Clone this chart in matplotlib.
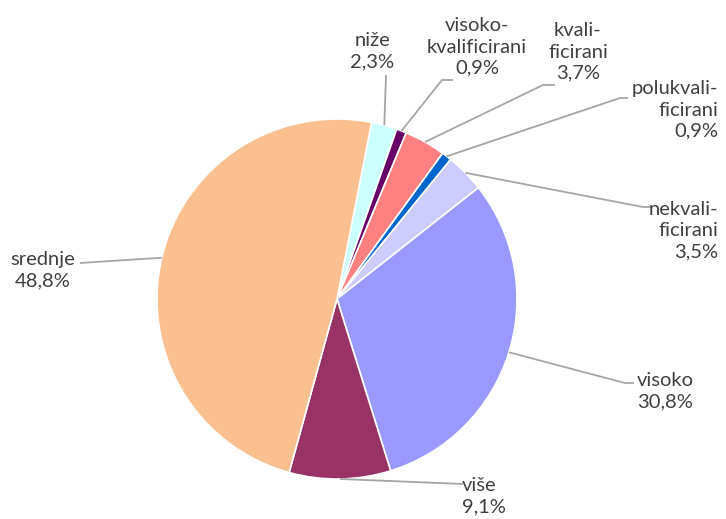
import numpy as np
import matplotlib
matplotlib.use("Agg")
import matplotlib.pyplot as plt

# ---- data ----
categories = ["niže", "visoko-\nkvalificirani", "kvali-\nficirani", "polukvali-\nficirani",
              "nekvali-\nficirani", "visoko", "više", "srednje"]
values = [2.3, 0.9, 3.7, 0.9, 3.5, 30.8, 9.1, 48.8]
value_labels = ["2,3%", "0,9%", "3,7%", "0,9%", "3,5%", "30,8%", "9,1%", "48,8%"]
colors = ["#CCFFFF", "#660066", "#FF8080", "#0066CC", "#CCCCFF", "#9999FF", "#993366", "#FAC090"]

W, H = 726, 519
CX, CY, R = 337, 299, 180  # pie centre / radius in pixels (from top-left)

fig = plt.figure(figsize=(W / 100, H / 100), dpi=100)
ax = fig.add_axes([0, 0, 1, 1])

first_angle = 11.1  # degrees clockwise from top
wedges, _ = ax.pie(values, colors=colors, startangle=90 - first_angle, counterclock=False,
                   radius=1.0, center=(0, 0), frame=True,
                   wedgeprops=dict(edgecolor="white", linewidth=1.2))
ax.set_aspect("equal")
ax.set_xlim(-CX / R, (W - CX) / R)
ax.set_ylim(-(H - CY) / R, CY / R)
ax.axis("off")


def px(x, y):
    return ((x - CX) / R, (CY - y) / R)


# label layout: (text x, text y, ha, elbow point, end point) in pixels
layout = [
    (372, 51, "center", (386, 75), (386, 75)),
    (477, 47, "center", (442, 80), (453, 80)),
    (578, 52, "center", (543, 85), (555, 85)),
    (718, 110, "right", (620, 98), (628, 98)),
    (718, 231, "right", (643, 207), (651, 207)),
    (637, 391, "left", (625, 383), (634, 383)),
    (462, 496, "left", (463, 484), (463, 484)),
    (43, 270, "center", (80, 263), (80, 263)),
]

tc = "#404040"
lc = "#A6A6A6"
for w, cat, vl, (tx, ty, ha, elb, end) in zip(wedges, categories, value_labels, layout):
    mid = np.deg2rad((w.theta1 + w.theta2) / 2)
    ax_, ay_ = np.cos(mid), np.sin(mid)
    e = px(*elb)
    n = px(*end)
    ax.plot([ax_, e[0], n[0]], [ay_, e[1], n[1]], color=lc, lw=1.3, solid_capstyle="butt", zorder=1)
    p = px(tx, ty)
    ax.text(p[0], p[1], cat + "\n" + vl, ha=ha, va="center", color=tc,
            fontsize=14.5, family=["Lato", "DejaVu Sans"], linespacing=1.3, multialignment=ha)

fig.savefig("out.png", dpi=100)
